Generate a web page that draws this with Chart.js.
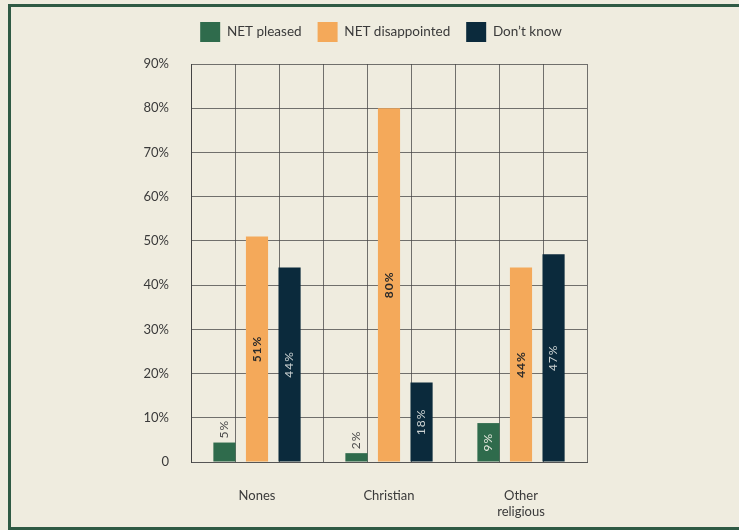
<!DOCTYPE html>
<html>
<head>
<meta charset="utf-8">
<script src="https://cdn.jsdelivr.net/npm/chart.js@4.4.1/dist/chart.umd.min.js"></script>
<style>
  html, body { margin: 0; padding: 0; background: #EFECDF; }
  body { width: 739px; height: 530px; position: relative; overflow: hidden; }
  .frame {
    position: absolute; left: 8px; top: 4px; width: 800px; height: 526px;
    box-sizing: border-box; border: 3px solid #2F5A44; border-right: none;
  }
  #wrap { position: absolute; left: 0; top: 0; width: 739px; height: 530px; }
</style>
</head>
<body>
<div class="frame"></div>
<div id="wrap"><canvas id="chart"></canvas></div>
<script>
// ---- data ----
const categories = ['Nones', 'Christian', ['Other', 'religious']];
const seriesNames = ['NET pleased', 'NET disappointed', 'Don\u2019t know'];
const pleased = [4.4, 2, 8.8];
const disappointed = [51, 80, 44];
const dontKnow = [44, 18, 47];
const pleasedLabels = ['5%', '2%', '9%'];
const disappointedLabels = ['51%', '80%', '44%'];
const dontKnowLabels = ['44%', '18%', '47%'];
const yTicks = [0, 10, 20, 30, 40, 50, 60, 70, 80, 90];
const gridSlots = ['', '', '', '', '', '', '', '', ''];

const FONT = "Lato, 'Open Sans', sans-serif";
const GREEN = '#2F6B4C';
const ORANGE = '#F4A95A';
const NAVY = '#0B2A3C';

const valueLabels = [pleasedLabels, disappointedLabels, dontKnowLabels];
const labelStyles = [
  { color: '#E6E8DE', weight: '400' },
  { color: '#2A2A2A', weight: '700' },
  { color: '#CDD3D3', weight: '400' },
];

// rotated value labels, inside the bar unless it is too short
const barLabels = {
  id: 'barLabels',
  afterDatasetsDraw(chart) {
    const ctx = chart.ctx;
    chart.data.datasets.forEach((ds, i) => {
      const meta = chart.getDatasetMeta(i);
      meta.data.forEach((bar, j) => {
        const text = valueLabels[i][j];
        const st = labelStyles[i];
        ctx.save();
        ctx.font = `${st.weight} 12px ${FONT}`;
        ctx.letterSpacing = '1px';
        const w = ctx.measureText(text).width;
        const h = bar.base - bar.y;
        let cy, color;
        if (w + 10 > h) {
          cy = bar.y - 4 - w / 2;
          color = '#4A4A4A';
        } else {
          cy = (bar.y + bar.base) / 2;
          color = st.color;
        }
        ctx.translate(bar.x, cy);
        ctx.rotate(-Math.PI / 2);
        ctx.fillStyle = color;
        ctx.textAlign = 'center';
        ctx.textBaseline = 'middle';
        ctx.fillText(text, 0, 0);
        ctx.restore();
      });
    });
  }
};

// extra room between legend and plot, legend nudged left
const legendGap = {
  id: 'legendGap',
  beforeInit(chart) {
    const fit = chart.legend.fit;
    chart.legend.fit = function () {
      fit.call(this);
      this.height += 12;
    };
  },
  afterLayout(chart) {
    chart.legend.left -= 8;
    chart.legend.right -= 8;
  }
};

Chart.defaults.font.family = FONT;
Chart.defaults.color = '#3A3A3A';

new Chart(document.getElementById('chart'), {
  type: 'bar',
  data: {
    labels: categories,
    datasets: [
      { label: seriesNames[0], data: pleased, backgroundColor: GREEN },
      { label: seriesNames[1], data: disappointed, backgroundColor: ORANGE },
      { label: seriesNames[2], data: dontKnow, backgroundColor: NAVY },
    ].map(ds => ({ ...ds, categoryPercentage: 0.74, barPercentage: 0.68, borderWidth: 0 }))
  },
  options: {
    responsive: true,
    maintainAspectRatio: false,
    animation: false,
    layout: { padding: { left: 131, right: 152, top: 6, bottom: 0 } },
    plugins: {
      legend: {
        display: true,
        position: 'top',
        fullSize: false,
        labels: {
          boxWidth: 20,
          boxHeight: 20,
          padding: 16,
          color: '#3A3A3A',
          font: { size: 13.5, family: FONT },
        }
      },
      tooltip: { enabled: false },
    },
    scales: {
      x: {
        grid: { display: false },
        border: { display: true, color: '#555555', width: 1 },
        ticks: { padding: 18, color: '#3A3A3A', font: { size: 13 }, maxRotation: 0 },
        afterFit: (s) => { s.height = 68; },
      },
      xg: {
        type: 'category',
        labels: gridSlots,
        position: 'bottom',
        offset: true,
        grid: { display: true, offset: true, color: 'rgba(70,70,70,0.75)', lineWidth: 1, drawTicks: false },
        border: { display: false },
        ticks: { display: false },
        afterFit: (s) => { s.height = 0; },
      },
      y: {
        min: 0,
        max: 90,
        afterBuildTicks: (s) => { s.ticks = yTicks.map(v => ({ value: v })); },
        grid: { color: 'rgba(70,70,70,0.75)', lineWidth: 1, drawTicks: false },
        border: { display: true, color: '#444444', width: 1 },
        ticks: {
          padding: 22,
          color: '#3A3A3A',
          font: { size: 13 },
          callback: (v) => v === 0 ? '0' : v + '%',
        },
        afterFit: (s) => { s.width = 60; },
      }
    }
  },
  plugins: [barLabels, legendGap]
});
</script>
</body>
</html>
